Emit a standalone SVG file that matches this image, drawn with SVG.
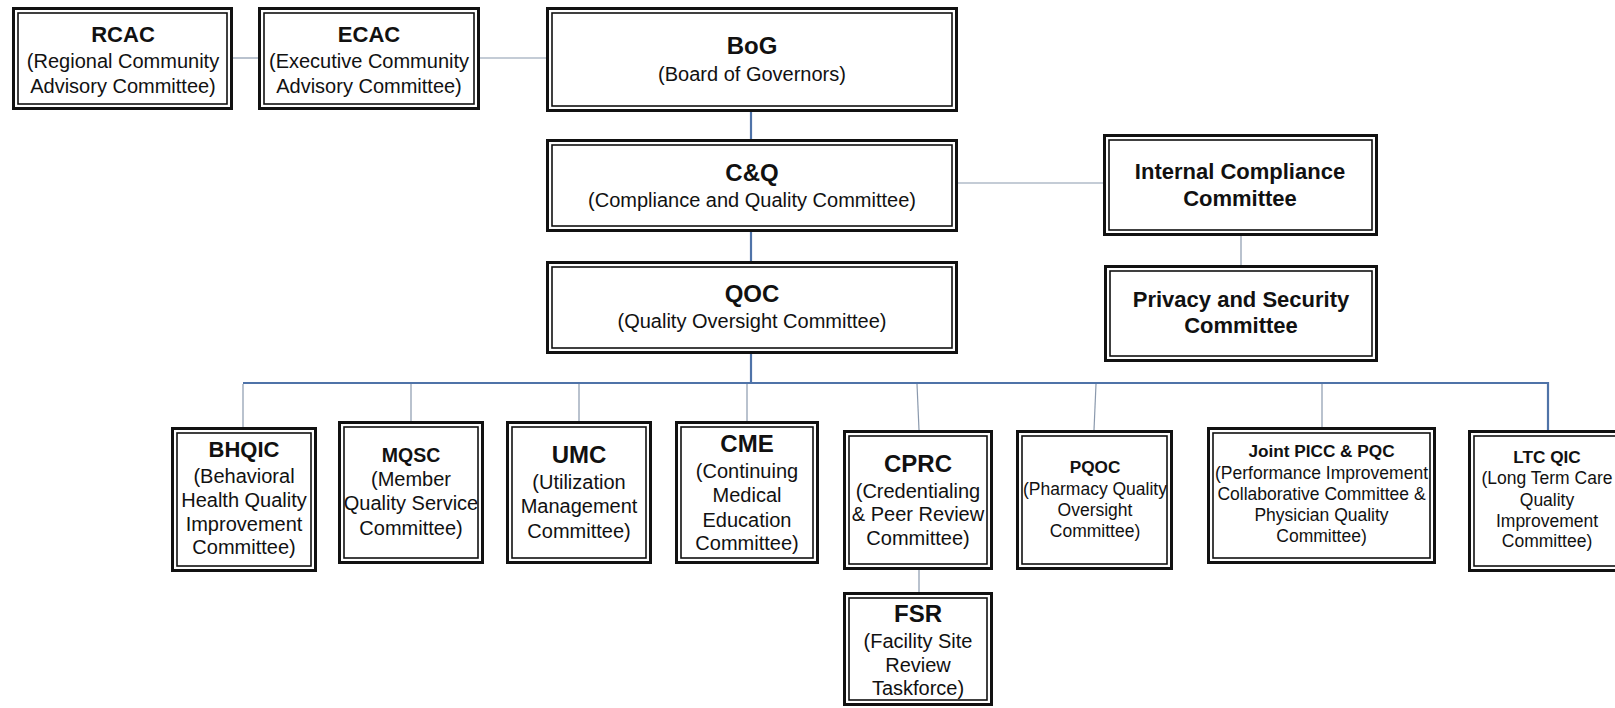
<svg xmlns="http://www.w3.org/2000/svg" width="1615" height="708" viewBox="0 0 1615 708">
  <style>
    .bg { fill: #ffffff; }
    .outer { fill: #ffffff; stroke: #111111; stroke-width: 3; }
    .inner { fill: none; stroke: #111111; stroke-width: 1.6; }
    .trunk { fill: none; stroke: #4f73a8; stroke-width: 2.2; }
    .link { fill: none; stroke: #8a99ad; stroke-width: 1.2; }
    text { font-family: "Liberation Sans", Arial, sans-serif; fill: #111111; text-anchor: middle; }
    .t24 { font-size: 24px; font-weight: bold; }
    .t22 { font-size: 22px; font-weight: bold; }
    .t19 { font-size: 19.5px; font-weight: bold; }
    .t17 { font-size: 17.2px; font-weight: bold; }
    .r20 { font-size: 20px; }
    .r17 { font-size: 17.5px; }
  </style>

  <rect class="bg" x="0" y="0" width="1615" height="708"/>

  <!-- connectors -->
  <g id="connectors">
    <line class="link" x1="233" y1="58" x2="258" y2="58"/>
    <line class="link" x1="480" y1="58" x2="546" y2="58"/>
    <line class="trunk" x1="751" y1="112" x2="751" y2="139"/>
    <line class="trunk" x1="751" y1="232" x2="751" y2="261"/>
    <line class="link" x1="958" y1="183" x2="1103" y2="183"/>
    <line class="link" x1="1241" y1="236" x2="1241" y2="265"/>
    <line class="trunk" x1="751" y1="354" x2="751" y2="383"/>
    <polyline class="trunk" points="243,383 1548,383 1548,430"/>
    <line class="link" x1="243" y1="384" x2="243" y2="427"/>
    <line class="link" x1="411" y1="384" x2="411" y2="421"/>
    <line class="link" x1="579" y1="384" x2="579" y2="421"/>
    <line class="link" x1="747" y1="384" x2="747" y2="421"/>
    <line class="link" x1="917" y1="384" x2="919" y2="430"/>
    <line class="link" x1="1096" y1="384" x2="1094" y2="430"/>
    <line class="link" x1="1322" y1="384" x2="1322" y2="427"/>
    <line class="link" x1="919" y1="570" x2="919" y2="592"/>
  </g>

  <!-- top row -->
  <g id="rcac">
    <rect class="outer" x="13.5" y="8.5" width="218" height="100"/>
    <rect class="inner" x="18" y="13" width="209" height="91"/>
    <text class="t22" x="123" y="42">RCAC</text>
    <text class="r20" x="123" y="68">(Regional Community</text>
    <text class="r20" x="123" y="93">Advisory Committee)</text>
  </g>

  <g id="ecac">
    <rect class="outer" x="259.5" y="8.5" width="219" height="100"/>
    <rect class="inner" x="264" y="13" width="210" height="91"/>
    <text class="t22" x="369" y="42">ECAC</text>
    <text class="r20" x="369" y="68">(Executive Community</text>
    <text class="r20" x="369" y="93">Advisory Committee)</text>
  </g>

  <g id="bog">
    <rect class="outer" x="547.5" y="8.5" width="409" height="102"/>
    <rect class="inner" x="552" y="13" width="400" height="93"/>
    <text class="t24" x="752" y="54">BoG</text>
    <text class="r20" x="752" y="81">(Board of Governors)</text>
  </g>

  <g id="cq">
    <rect class="outer" x="547.5" y="140.5" width="409" height="90"/>
    <rect class="inner" x="552" y="145" width="400" height="81"/>
    <text class="t24" x="752" y="181">C&amp;Q</text>
    <text class="r20" x="752" y="207">(Compliance and Quality Committee)</text>
  </g>

  <g id="qoc">
    <rect class="outer" x="547.5" y="262.5" width="409" height="90"/>
    <rect class="inner" x="552" y="267" width="400" height="81"/>
    <text class="t24" x="752" y="302">QOC</text>
    <text class="r20" x="752" y="328">(Quality Oversight Committee)</text>
  </g>

  <g id="internal-compliance">
    <rect class="outer" x="1104.5" y="135.5" width="272" height="99"/>
    <rect class="inner" x="1109" y="140" width="263" height="90"/>
    <text class="t22" x="1240" y="179">Internal Compliance</text>
    <text class="t22" x="1240" y="206">Committee</text>
  </g>

  <g id="privacy-security">
    <rect class="outer" x="1105.5" y="266.5" width="271" height="94"/>
    <rect class="inner" x="1110" y="271" width="262" height="85"/>
    <text class="t22" x="1241" y="307">Privacy and Security</text>
    <text class="t22" x="1241" y="333">Committee</text>
  </g>

  <!-- subcommittees -->
  <g id="bhqic">
    <rect class="outer" x="172.5" y="428.5" width="143" height="142"/>
    <rect class="inner" x="177" y="433" width="134" height="133"/>
    <text class="t22" x="244" y="457">BHQIC</text>
    <text class="r20" x="244" y="483">(Behavioral</text>
    <text class="r20" x="244" y="507">Health Quality</text>
    <text class="r20" x="244" y="531">Improvement</text>
    <text class="r20" x="244" y="554">Committee)</text>
  </g>

  <g id="mqsc">
    <rect class="outer" x="339.5" y="422.5" width="143" height="140"/>
    <rect class="inner" x="344" y="427" width="134" height="131"/>
    <text class="t19" x="411" y="462">MQSC</text>
    <text class="r20" x="411" y="486">(Member</text>
    <text class="r20" x="411" y="510">Quality Service</text>
    <text class="r20" x="411" y="535">Committee)</text>
  </g>

  <g id="umc">
    <rect class="outer" x="507.5" y="422.5" width="143" height="140"/>
    <rect class="inner" x="512" y="427" width="134" height="131"/>
    <text class="t24" x="579" y="463">UMC</text>
    <text class="r20" x="579" y="489">(Utilization</text>
    <text class="r20" x="579" y="513">Management</text>
    <text class="r20" x="579" y="538">Committee)</text>
  </g>

  <g id="cme">
    <rect class="outer" x="676.5" y="422.5" width="141" height="140"/>
    <rect class="inner" x="681" y="427" width="132" height="131"/>
    <text class="t24" x="747" y="452">CME</text>
    <text class="r20" x="747" y="478">(Continuing</text>
    <text class="r20" x="747" y="502">Medical</text>
    <text class="r20" x="747" y="527">Education</text>
    <text class="r20" x="747" y="550">Committee)</text>
  </g>

  <g id="cprc">
    <rect class="outer" x="844.5" y="431.5" width="147" height="137"/>
    <rect class="inner" x="849" y="436" width="138" height="128"/>
    <text class="t24" x="918" y="472">CPRC</text>
    <text class="r20" x="918" y="498">(Credentialing</text>
    <text class="r20" x="918" y="521">&amp; Peer Review</text>
    <text class="r20" x="918" y="545">Committee)</text>
  </g>

  <g id="fsr">
    <rect class="outer" x="844.5" y="593.5" width="147" height="111"/>
    <rect class="inner" x="849" y="598" width="138" height="102"/>
    <text class="t24" x="918" y="622">FSR</text>
    <text class="r20" x="918" y="648">(Facility Site</text>
    <text class="r20" x="918" y="672">Review</text>
    <text class="r20" x="918" y="695">Taskforce)</text>
  </g>

  <g id="pqoc">
    <rect class="outer" x="1017.5" y="431.5" width="154" height="137"/>
    <rect class="inner" x="1022" y="436" width="145" height="128"/>
    <text class="t17" x="1095" y="473">PQOC</text>
    <text class="r17" x="1095" y="495">(Pharmacy Quality</text>
    <text class="r17" x="1095" y="516">Oversight</text>
    <text class="r17" x="1095" y="537">Committee)</text>
  </g>

  <g id="joint-picc-pqc">
    <rect class="outer" x="1208.5" y="428.5" width="226" height="134"/>
    <rect class="inner" x="1213" y="433" width="217" height="125"/>
    <text class="t17" x="1321.5" y="457">Joint PICC &amp; PQC</text>
    <text class="r17" x="1321.5" y="479">(Performance Improvement</text>
    <text class="r17" x="1321.5" y="500">Collaborative Committee &amp;</text>
    <text class="r17" x="1321.5" y="521">Physician Quality</text>
    <text class="r17" x="1321.5" y="542">Committee)</text>
  </g>

  <g id="ltc-qic">
    <rect class="outer" x="1469.5" y="431.5" width="155" height="139"/>
    <rect class="inner" x="1474" y="436" width="146" height="130"/>
    <text class="t17" x="1547" y="463">LTC QIC</text>
    <text class="r17" x="1547" y="484">(Long Term Care</text>
    <text class="r17" x="1547" y="506">Quality</text>
    <text class="r17" x="1547" y="527">Improvement</text>
    <text class="r17" x="1547" y="547">Committee)</text>
  </g>
</svg>
